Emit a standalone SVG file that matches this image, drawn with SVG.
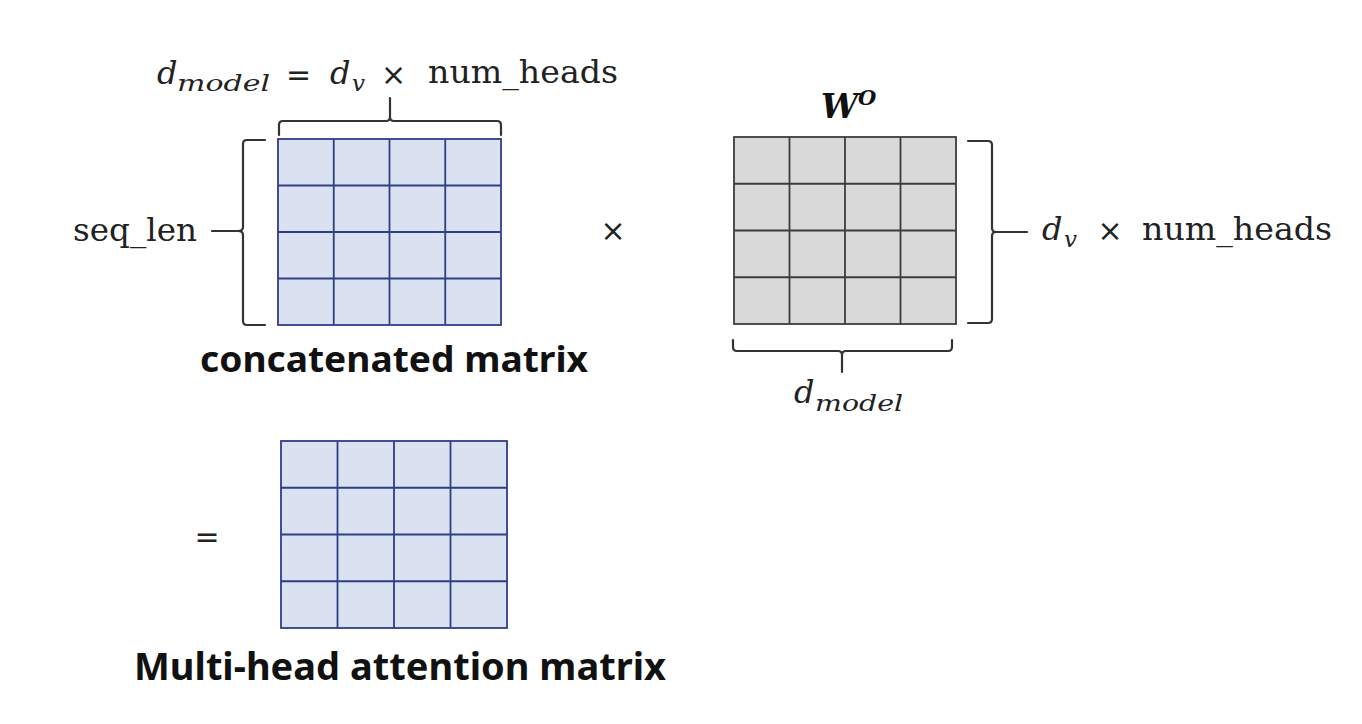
<svg xmlns="http://www.w3.org/2000/svg" width="1362" height="724" viewBox="0 0 1362 724">
<style>
.blue{fill:#dae1f0;stroke:#2f3e86;stroke-width:1.8}
.bl{stroke:#2f3e86;stroke-width:1.8;fill:none}
.gray{fill:#d9d9d9;stroke:#3c3c3c;stroke-width:1.8}
.gl{stroke:#3c3c3c;stroke-width:1.8;fill:none}
.brace{fill:none;stroke:#333;stroke-width:2.2;stroke-linejoin:round;stroke-linecap:round}
.serif{font-family:"DejaVu Serif","Liberation Serif",serif;fill:#222;font-size:32px}
.mi{font-family:"DejaVu Serif","Liberation Serif",serif;font-style:italic;fill:#222;font-size:32px}
.sub{font-size:23px}
.op{font-family:"DejaVu Sans","Liberation Sans",sans-serif;fill:#222;font-size:30px;text-anchor:middle}
.bold{font-family:"Noto Sans","Open Sans","Liberation Sans",sans-serif;font-weight:bold;fill:#111}
</style>
<rect width="1362" height="724" fill="#fff"/>

<g id="concat-matrix">
<rect class="blue" x="278" y="139" width="223" height="186"/>
<path class="bl" d="M333.75,139V325M389.5,139V325M445.25,139V325M278,185.5H501M278,232H501M278,278.5H501"/>
<text class="bold" x="200" y="372" font-size="35" textLength="388" lengthAdjust="spacingAndGlyphs">concatenated matrix</text>
</g>

<g id="wo-matrix">
<rect class="gray" x="734" y="137" width="222" height="187"/>
<path class="gl" d="M789.5,137V324M845,137V324M900.5,137V324M734,183.75H956M734,230.5H956M734,277.25H956"/>
<text x="821" y="118" font-family="DejaVu Serif, Liberation Serif, serif" font-style="italic" font-weight="bold" font-size="33" fill="#111">W<tspan dy="-13" font-size="21">O</tspan></text>
</g>

<g id="result-matrix">
<rect class="blue" x="281" y="441" width="226" height="187"/>
<path class="bl" d="M337.5,441V628M394,441V628M450.5,441V628M281,487.75H507M281,534.5H507M281,581.25H507"/>
<text class="bold" x="134" y="680" font-size="38" textLength="532" lengthAdjust="spacingAndGlyphs">Multi-head attention matrix</text>
</g>

<g id="labels">
<text class="mi" x="157" y="84">d</text>
<text class="mi sub" x="177" y="91" textLength="93" lengthAdjust="spacingAndGlyphs">model</text>
<text class="op" x="298.5" y="85">=</text>
<text class="mi" x="330" y="84">d</text>
<text class="mi sub" x="352" y="91">v</text>
<text class="op" x="393.5" y="85">×</text>
<text class="serif" x="428" y="83" textLength="190" lengthAdjust="spacingAndGlyphs">num_heads</text>

<text class="serif" x="73" y="240.5" textLength="124" lengthAdjust="spacingAndGlyphs">seq_len</text>
<text class="op" x="613" y="241" font-size="32">×</text>

<text class="mi" x="1042" y="240">d</text>
<text class="mi sub" x="1064" y="247">v</text>
<text class="op" x="1110" y="241">×</text>
<text class="serif" x="1142" y="240" textLength="190" lengthAdjust="spacingAndGlyphs">num_heads</text>

<text class="mi" x="794" y="403">d</text>
<text class="mi sub" x="815" y="411" textLength="88" lengthAdjust="spacingAndGlyphs">model</text>

<text class="op" x="207" y="547" font-size="32">=</text>
</g>

<g id="connectors">
<path class="brace" d="M279,135V125Q279,121 283,121H386Q390,121 390,117V98M390,117Q390,121 394,121H497Q501,121 501,125V135"/>
<path class="brace" d="M265,140H247Q243,140 243,144V227Q243,231 238,231M238,231Q243,231 243,235V321Q243,325 247,325H265M212,231H238"/>
<path class="brace" d="M968,141H988Q992,141 992,145V228Q992,232 996,232M996,232Q992,232 992,236V319Q992,323 988,323H968M996,232H1027"/>
<path class="brace" d="M733,340V347Q733,351 737,351H838Q842,351 842,355V372M842,355Q842,351 846,351H948Q952,351 952,347V340"/>
</g>
</svg>
